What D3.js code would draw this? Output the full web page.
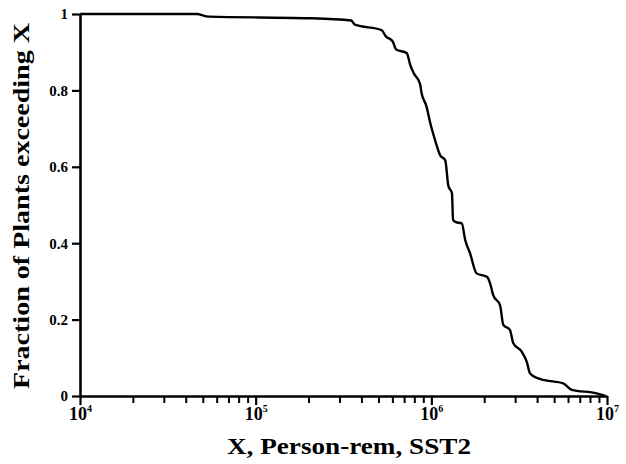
<!DOCTYPE html>
<html>
<head>
<meta charset="utf-8">
<script src="https://cdn.jsdelivr.net/npm/d3@7"></script>
<style>
  body { margin: 0; background: #fff; }
</style>
</head>
<body>
<script>
// complementary CDF: dose (person-rem) vs fraction of plants exceeding it
const doses = [
  10000, 46000, 54000, 200000, 350000, 367000, 521000, 550000, 603000, 631000,
  724000, 759000, 794000, 861000, 881000, 940000, 982000, 1050000, 1120000, 1200000,
  1250000, 1310000, 1330000, 1380000, 1490000, 1560000, 1660000, 1810000, 2070000, 2160000,
  2250000, 2460000, 2570000, 2800000, 2930000, 3270000, 3490000, 3650000, 4060000, 4340000,
  5640000, 6300000, 8730000, 9770000
];
const fractions = [
  1.0, 1.0, 0.993, 0.989, 0.983, 0.972, 0.958, 0.942, 0.928, 0.907,
  0.898, 0.866, 0.845, 0.818, 0.792, 0.757, 0.718, 0.67, 0.631, 0.617,
  0.55, 0.531, 0.461, 0.455, 0.452, 0.408, 0.374, 0.321, 0.312, 0.295,
  0.264, 0.238, 0.186, 0.173, 0.138, 0.116, 0.09, 0.059, 0.046, 0.042,
  0.033, 0.016, 0.007, 0.0
];
const decades = [1e4, 1e5, 1e6, 1e7];
const yTicks = [0, 0.2, 0.4, 0.6, 0.8, 1];
const yTickLabels = ["0", "0.2", "0.4", "0.6", "0.8", "1"];

const font = "'Liberation Serif', serif";
const width = 626;
const height = 464;
const margin = { top: 14, right: 19, bottom: 68, left: 80 };

const x = d3.scaleLog()
  .domain([1e4, 1e7])
  .range([margin.left, width - margin.right]);
const y = d3.scaleLinear()
  .domain([0, 1])
  .range([height - margin.bottom, margin.top]);

const minor = [];
for (let i = 0; i < decades.length - 1; i++) {
  for (let k = 2; k <= 9; k++) minor.push(decades[i] * k);
}

const svg = d3.select("body")
  .append("svg")
  .attr("width", width)
  .attr("height", height);

// minor ticks
svg.append("g")
  .attr("transform", `translate(0,${y(0)})`)
  .call(d3.axisBottom(x).tickValues(minor).tickSize(7).tickSizeOuter(0).tickFormat(""))
  .call((g) => g.select(".domain").remove())
  .call((g) => g.selectAll("line").attr("stroke", "#000").attr("stroke-width", 2));

// major ticks + domain
svg.append("g")
  .attr("transform", `translate(0,${y(0)})`)
  .call(d3.axisBottom(x).tickValues(decades).tickSize(9).tickSizeOuter(0).tickPadding(2))
  .attr("font-family", font)
  .attr("font-weight", "bold")
  .call((g) => g.select(".domain").attr("stroke", "#000").attr("stroke-width", 2.6))
  .call((g) => g.selectAll("line").attr("stroke", "#000").attr("stroke-width", 2.2))
  .call((g) =>
    g.selectAll("text")
      .attr("font-size", 18)
      .attr("dy", "0.72em")
      .text(null)
      .each(function (d) {
        const t = d3.select(this);
        t.append("tspan").text("10");
        t.append("tspan")
          .attr("font-size", 10)
          .attr("dy", "-0.8em")
          .text(Math.round(Math.log10(d)));
      })
  );

svg.append("g")
  .attr("transform", `translate(${x(1e4)},0)`)
  .call(
    d3.axisLeft(y)
      .tickValues(yTicks)
      .tickSize(8)
      .tickSizeOuter(0)
      .tickPadding(4)
      .tickFormat((d, i) => yTickLabels[i])
  )
  .attr("font-family", font)
  .attr("font-weight", "bold")
  .call((g) => g.select(".domain").attr("stroke", "#000").attr("stroke-width", 2.6))
  .call((g) => g.selectAll("line").attr("stroke", "#000").attr("stroke-width", 2.2))
  .call((g) => g.selectAll("text").attr("font-size", 15));

const line = d3.line()
  .x((d, i) => x(doses[i]))
  .y((d, i) => y(fractions[i]))
  .curve(d3.curveMonotoneX);

svg.append("path")
  .attr("fill", "none")
  .attr("stroke", "#000")
  .attr("stroke-width", 2.4)
  .attr("stroke-linejoin", "round")
  .attr("d", line(doses));

svg.append("text")
  .attr("x", 349)
  .attr("y", 454)
  .attr("text-anchor", "middle")
  .attr("font-family", font)
  .attr("font-weight", "bold")
  .attr("font-size", 23)
  .attr("textLength", 244)
  .attr("lengthAdjust", "spacingAndGlyphs")
  .text("X, Person-rem, SST2");

svg.append("text")
  .attr("transform", `translate(29,${(22 + 390) / 2}) rotate(-90)`)
  .attr("text-anchor", "middle")
  .attr("font-family", font)
  .attr("font-weight", "bold")
  .attr("font-size", 23)
  .attr("textLength", 366)
  .attr("lengthAdjust", "spacingAndGlyphs")
  .text("Fraction of Plants exceeding X");
</script>
</body>
</html>
